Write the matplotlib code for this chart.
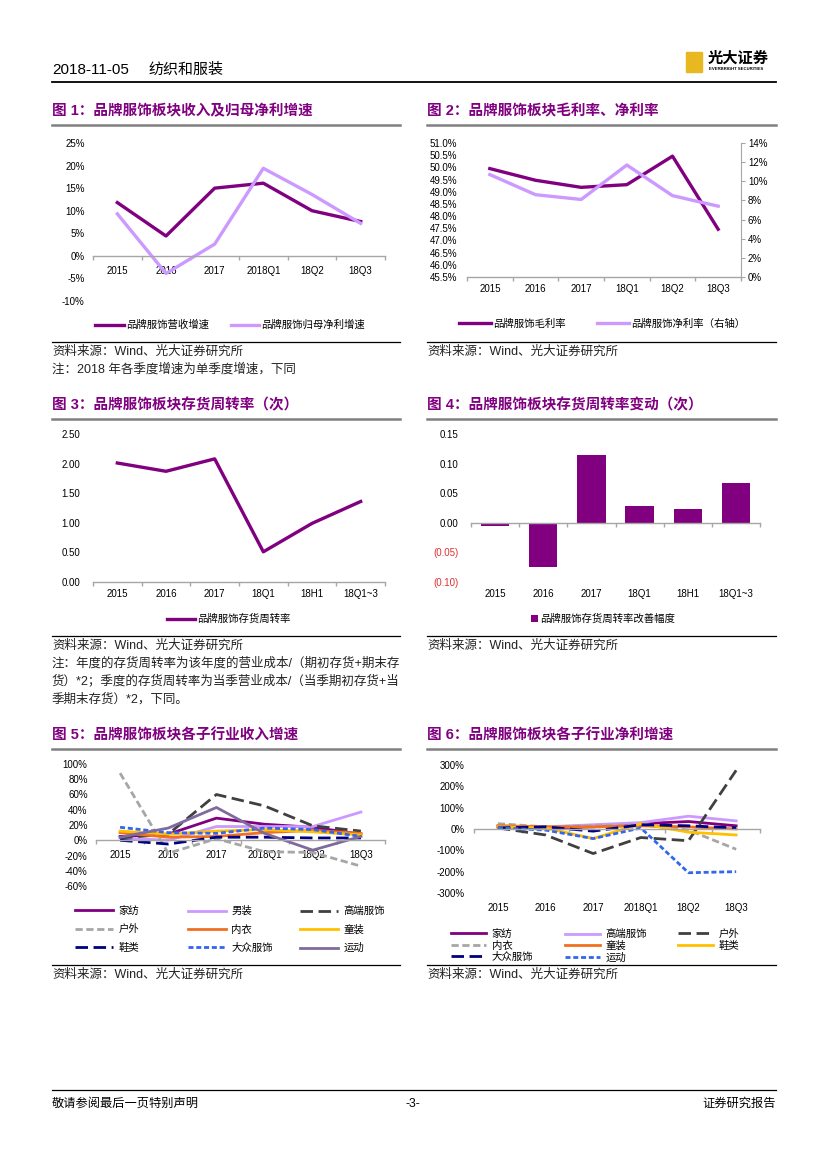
import matplotlib
matplotlib.use('Agg')
import matplotlib.pyplot as plt
from matplotlib.lines import Line2D
from matplotlib.patches import Rectangle

plt.rcParams['font.family'] = ['Liberation Sans', 'Noto Sans CJK SC', 'DejaVu Sans']

W, H = 827, 1169

# ---------------- data ----------------
c1_cats = ['2015', '2016', '2017', '2018Q1', '18Q2', '18Q3']
c1_rev = [11.8, 4.4, 15.0, 16.1, 10.0, 7.6]
c1_np = [9.3, -3.9, 2.6, 19.4, 13.6, 7.2]

c2_cats = ['2015', '2016', '2017', '18Q1', '18Q2', '18Q3']
c2_gm = [49.95, 49.47, 49.18, 49.29, 50.46, 47.46]
c2_nm = [10.7, 8.6, 8.1, 11.7, 8.5, 7.4]

c3_cats = ['2015', '2016', '2017', '18Q1', '18H1', '18Q1~3']
c3_turn = [2.01, 1.87, 2.08, 0.51, 0.99, 1.36]
c4_chg = [-0.005, -0.074, 0.115, 0.029, 0.024, 0.067]

c5_cats = ['2015', '2016', '2017', '2018Q1', '18Q2', '18Q3']
c5_names = ['家纺', '男装', '高端服饰', '户外', '内衣', '童装', '鞋类', '大众服饰', '运动']
c5_jiafang = [5, 8, 29, 21, 17, 8]
c5_nanzhuang = [3, 0, 18, 18, 18, 37]
c5_gaoduan = [3, 8, 60, 45, 19, 12]
c5_huwai = [88, -17, 2, -15, -16, -34]
c5_neiyi = [10, 4, 5, 10, 13, 9]
c5_tongzhuang = [12, 8, 12, 14, 11, 7]
c5_xielei = [0, -5, 4, 4, 3, 3]
c5_dazhong = [17, 10, 9, 16, 14, 5]
c5_yundong = [4, 16, 43, 9, -13, 5]

c6_names = ['家纺', '高端服饰', '户外', '内衣', '童装', '鞋类', '大众服饰', '运动']
c6_jiafang = [10, 5, 10, 25, 35, 15]
c6_gaoduan = [15, 10, 20, 30, 60, 38]
c6_huwai = [5, -28, -115, -40, -55, 275]
c6_neiyi = [25, 10, 15, 20, -5, -95]
c6_tongzhuang = [15, 10, 10, 15, 10, 0]
c6_xielei = [10, 5, -45, 25, -15, -28]
c6_dazhong = [5, 10, -10, 20, 15, 5]
c6_yundong = [5, -5, -45, 5, -205, -200]

# ---------------- styles ----------------
PURPLE = '#800080'
LPURPLE = '#CC99FF'
GRAY_D = '#404040'
GRAY_L = '#A6A6A6'
ORANGE = '#F07020'
YELLOW = '#FFC000'
NAVY = '#000080'
BLUE = '#3366EE'
SPORT = '#7F6A9E'
AXIS = '#A6A6A6'

solid = dict(ls='-')
long_dash = dict(dashes=(4.5, 2))
mid_dash = dict(dashes=(2.6, 1.3))
short_dash = dict(dashes=(1.8, 1.0))

fig = plt.figure(figsize=(8.27, 11.69), dpi=100)


def px_ax(x0, y0, x1, y1):
    return fig.add_axes([x0 / W, 1 - y1 / H, (x1 - x0) / W, (y1 - y0) / H])


def hline(x0, x1, y, color, lw):
    fig.add_artist(Line2D([x0 / W, x1 / W], [1 - y / H, 1 - y / H], color=color, lw=lw))


def ftext(x, y, s, **kw):
    kw.setdefault('va', 'center')
    fig.text(x / W, 1 - y / H, s, **kw)


def setup_cat(ax, cats, zero_spine=True, labels_low=False, xpad=6, ypad=6):
    n = len(cats)
    ax.set_xlim(-0.5, n - 0.5)
    for s in ('top', 'right', 'left'):
        ax.spines[s].set_visible(False)
    ax.spines['bottom'].set_color(AXIS)
    ax.spines['bottom'].set_linewidth(1)
    if zero_spine:
        ax.spines['bottom'].set_position(('data', 0))
    ax.set_xticks(range(n))
    ax.set_xticks([i - 0.5 for i in range(n + 1)], minor=True)
    ax.tick_params(axis='x', which='minor', length=3, width=1, color=AXIS)
    ax.tick_params(axis='x', which='major', length=0, labelsize=7, pad=xpad)
    if labels_low:
        ax.set_xticklabels([])
        sec = ax.secondary_xaxis('bottom')
        sec.set_xticks(range(n), labels=cats)
        sec.tick_params(length=0, labelsize=7, pad=xpad)
        for sp in sec.spines.values():
            sp.set_visible(False)
    else:
        ax.set_xticklabels(cats)
    ax.tick_params(axis='y', length=0, labelsize=7, pad=ypad)
    ax.set_facecolor('none')


def title_block(x0, x1, y, text):
    ftext(x0, y, text, color=PURPLE, fontsize=10.5, fontweight='bold')
    hline(x0, x1, y + 14, '#808080', 1.8)


def source_block(x0, x1, y, notes=()):
    hline(x0, x1, y, 'black', 0.9)
    ftext(x0, y + 10, '资料来源：Wind、光大证券研究所', fontsize=9, color='#222222')
    for k, s in enumerate(notes):
        ftext(x0, y + 27 + 18 * k, s, fontsize=9, color='#222222')


def column_legends(ax, handles, xs, y, spacing, hlen):
    # one legend per column so that columns sit at fixed x like the original
    for c, x0 in enumerate(xs):
        hs = handles[c::len(xs)]
        leg = ax.legend(hs, [h.get_label() for h in hs], loc='upper left',
                        bbox_to_anchor=(x0 / W, 1 - y / H), bbox_transform=fig.transFigure,
                        frameon=False, fontsize=7.5, handlelength=hlen, handletextpad=0.5,
                        labelspacing=spacing, borderpad=0, borderaxespad=0)
        if c < len(xs) - 1:
            ax.add_artist(leg)


# ---------------- header / footer ----------------
ftext(52, 70, '2018-11-05', fontsize=11)
ftext(148, 70, '纺织和服装', fontsize=10.8)
hline(52, 776, 82, 'black', 1.3)
fig.add_artist(Rectangle((686 / W, 1 - 72 / H), 16 / W, 20 / H, color='#E8B820',
                         transform=fig.transFigure))
ftext(708, 59, '光大证券', fontsize=11, fontweight='bold')
ftext(709, 68.5, 'EVERBRIGHT SECURITIES', fontsize=3.1, fontweight='bold')

hline(52, 776, 1090, 'black', 0.9)
ftext(52, 1104, '敬请参阅最后一页特别声明', fontsize=8.8)
ftext(413, 1104, '-3-', fontsize=8.8, ha='center')
ftext(776, 1104, '证券研究报告', fontsize=8.8, ha='right')

# ---------------- chart 1 ----------------
title_block(52, 400, 111, '图 1：品牌服饰板块收入及归母净利增速')
ax1 = px_ax(93, 143, 385, 301)
ax1.plot(range(6), c1_rev, color=PURPLE, lw=2.4, label='品牌服饰营收增速')
ax1.plot(range(6), c1_np, color=LPURPLE, lw=2.4, label='品牌服饰归母净利增速')
ax1.set_ylim(-10, 25)
ax1.set_yticks(range(-10, 26, 5), labels=[f'{v}%' for v in range(-10, 26, 5)])
setup_cat(ax1, c1_cats, zero_spine=True, xpad=7, ypad=6)
ax1.legend(loc='center', bbox_to_anchor=(230 / W, 1 - 325 / H), bbox_transform=fig.transFigure,
           ncol=2, frameon=False, fontsize=7.5, handlelength=2.7, handletextpad=0.2,
           columnspacing=2.1, borderpad=0)
source_block(52, 400, 342, ['注：2018 年各季度增速为单季度增速，下同'])

# ---------------- chart 2 ----------------
title_block(427, 776, 111, '图 2：品牌服饰板块毛利率、净利率')
ax2 = px_ax(467, 143, 741, 277)
l_gm, = ax2.plot(range(6), c2_gm, color=PURPLE, lw=2.4, label='品牌服饰毛利率')
ax2.set_ylim(45.5, 51.0)
gm_ticks = [45.5 + 0.5 * k for k in range(12)]
ax2.set_yticks(gm_ticks, labels=[f'{v:.1f}%' for v in gm_ticks])
setup_cat(ax2, c2_cats, zero_spine=False, xpad=5, ypad=7)
ax2r = ax2.twinx()
l_nm, = ax2r.plot(range(6), c2_nm, color=LPURPLE, lw=2.4, label='品牌服饰净利率（右轴）')
ax2r.set_ylim(0, 14)
ax2r.set_yticks(range(0, 15, 2), labels=[f'{v}%' for v in range(0, 15, 2)])
for s in ('top', 'left', 'bottom'):
    ax2r.spines[s].set_visible(False)
ax2r.spines['right'].set_color(AXIS)
ax2r.tick_params(axis='y', length=3, color=AXIS, labelsize=7, pad=2)
ax2r.legend([l_gm, l_nm], [l_gm.get_label(), l_nm.get_label()], loc='center',
            bbox_to_anchor=(602 / W, 1 - 324 / H), bbox_transform=fig.transFigure,
            ncol=2, frameon=False, fontsize=7.5, handlelength=3.1, handletextpad=0.2,
            columnspacing=3.0, borderpad=0)
source_block(427, 776, 342)

# ---------------- chart 3 ----------------
title_block(52, 400, 405, '图 3：品牌服饰板块存货周转率（次）')
ax3 = px_ax(93, 434, 385, 582)
ax3.plot(range(6), c3_turn, color=PURPLE, lw=2.4, label='品牌服饰存货周转率')
ax3.set_ylim(0, 2.5)
t3 = [0.5 * k for k in range(6)]
ax3.set_yticks(t3, labels=[f'{v:.2f}' for v in t3])
setup_cat(ax3, c3_cats, zero_spine=False, xpad=5, ypad=9)
ax3.legend(loc='center', bbox_to_anchor=(229 / W, 1 - 619 / H), bbox_transform=fig.transFigure,
           frameon=False, fontsize=7.5, handlelength=2.7, handletextpad=0.2, borderpad=0)
source_block(52, 400, 636, [
    '注：年度的存货周转率为该年度的营业成本/（期初存货+期末存',
    '货）*2；季度的存货周转率为当季营业成本/（当季期初存货+当',
    '季期末存货）*2，下同。',
])

# ---------------- chart 4 ----------------
title_block(427, 776, 405, '图 4：品牌服饰板块存货周转率变动（次）')
ax4 = px_ax(471, 434, 760, 582)
ax4.bar(range(6), c4_chg, width=0.59, color=PURPLE, label='品牌服饰存货周转率改善幅度', zorder=1)
ax4.set_ylim(-0.10, 0.15)
t4 = [-0.10, -0.05, 0.0, 0.05, 0.10, 0.15]
ax4.set_yticks(t4, labels=[f'({abs(v):.2f})' if v < -1e-9 else f'{v:.2f}' for v in t4])
for v, lab in zip(t4, ax4.get_yticklabels()):
    if v < -1e-9:
        lab.set_color('#E03030')
setup_cat(ax4, c3_cats, zero_spine=True, labels_low=True, xpad=5, ypad=9)
ax4.spines['bottom'].set_zorder(3)
ax4.legend(loc='center', bbox_to_anchor=(603 / W, 1 - 619 / H), bbox_transform=fig.transFigure,
           frameon=False, fontsize=7.5, handlelength=0.7, handleheight=0.7, handletextpad=0.2,
           borderpad=0)
source_block(427, 776, 636)

# ---------------- chart 5 ----------------
title_block(52, 400, 735, '图 5：品牌服饰板块各子行业收入增速')
ax5 = px_ax(96, 764, 385, 886)
c5_series = [c5_jiafang, c5_nanzhuang, c5_gaoduan, c5_huwai, c5_neiyi,
             c5_tongzhuang, c5_xielei, c5_dazhong, c5_yundong]
c5_styles = [(PURPLE, solid), (LPURPLE, solid), (GRAY_D, long_dash), (GRAY_L, mid_dash),
             (ORANGE, solid), (YELLOW, solid), (NAVY, long_dash), (BLUE, short_dash),
             (SPORT, solid)]
h5 = []
for name, vals, (col, st) in zip(c5_names, c5_series, c5_styles):
    ln, = ax5.plot(range(6), vals, color=col, lw=2.0, label=name, **st)
    h5.append(ln)
ax5.set_ylim(-60, 100)
ax5.set_yticks(range(-60, 101, 20), labels=[f'{v}%' for v in range(-60, 101, 20)])
setup_cat(ax5, c5_cats, zero_spine=True, xpad=7, ypad=6)
column_legends(ax5, h5, [75, 188, 300], 906, 0.8, 3.65)
source_block(52, 400, 965)

# ---------------- chart 6 ----------------
title_block(427, 776, 735, '图 6：品牌服饰板块各子行业净利增速')
ax6 = px_ax(474, 765, 760, 893)
c6_series = [c6_jiafang, c6_gaoduan, c6_huwai, c6_neiyi, c6_tongzhuang,
             c6_xielei, c6_dazhong, c6_yundong]
c6_styles = [(PURPLE, solid), (LPURPLE, solid), (GRAY_D, long_dash), (GRAY_L, mid_dash),
             (ORANGE, solid), (YELLOW, solid), (NAVY, long_dash), (BLUE, short_dash)]
h6 = []
for name, vals, (col, st) in zip(c6_names, c6_series, c6_styles):
    ln, = ax6.plot(range(6), vals, color=col, lw=2.0, label=name, **st)
    h6.append(ln)
ax6.set_ylim(-300, 300)
ax6.set_yticks(range(-300, 301, 100), labels=[f'{v}%' for v in range(-300, 301, 100)])
setup_cat(ax6, c5_cats, zero_spine=True, labels_low=True, xpad=7, ypad=7)
column_legends(ax6, h6, [451, 565, 678], 929, 0.15, 3.4)
source_block(427, 776, 965)

fig.savefig('out.png', dpi=100)
